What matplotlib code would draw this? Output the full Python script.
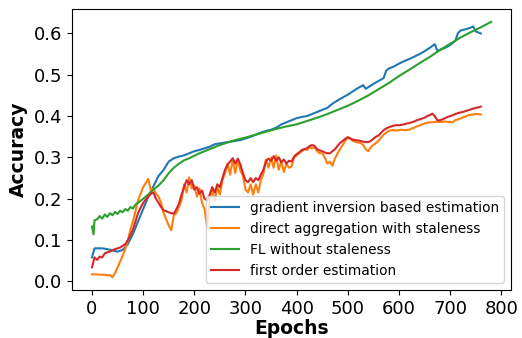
import matplotlib
matplotlib.use("Agg")
import matplotlib.pyplot as plt

# gradient inversion based estimation
gi_epochs = [0, 5, 10, 20, 30, 40, 50, 60, 70, 80, 90, 100, 110, 120, 130, 140, 150,
             160, 170, 180, 190, 200, 210, 220, 230, 240, 250, 260, 270, 280, 290, 300,
             310, 320, 330, 340, 350, 360, 370, 380, 390, 400, 410, 420, 430, 440, 450,
             460, 470, 480, 490, 500, 510, 520, 530, 535, 540, 550, 560, 570, 575, 580,
             590, 600, 610, 620, 630, 640, 650, 660, 670, 675, 680, 690, 700, 710, 715,
             720, 730, 740, 745, 750, 760]
gi_acc = [0.058, 0.080, 0.080, 0.080, 0.078, 0.075, 0.072, 0.076, 0.090, 0.115, 0.145,
          0.175, 0.205, 0.230, 0.255, 0.270, 0.290, 0.298, 0.302, 0.305, 0.310, 0.315,
          0.318, 0.322, 0.326, 0.332, 0.334, 0.336, 0.338, 0.340, 0.342, 0.346, 0.350,
          0.355, 0.360, 0.364, 0.367, 0.372, 0.380, 0.385, 0.390, 0.395, 0.398, 0.400,
          0.405, 0.410, 0.415, 0.420, 0.430, 0.438, 0.445, 0.452, 0.460, 0.468, 0.475,
          0.466, 0.470, 0.478, 0.485, 0.492, 0.510, 0.515, 0.520, 0.527, 0.533, 0.538,
          0.544, 0.550, 0.557, 0.565, 0.574, 0.558, 0.560, 0.565, 0.572, 0.582, 0.600,
          0.607, 0.610, 0.614, 0.617, 0.605, 0.600]

# direct aggregation with staleness (every 5 epochs)
da_epochs = list(range(0, 765, 5))
da_acc = [0.017, 0.017, 0.017, 0.016, 0.016, 0.016, 0.015, 0.015, 0.010, 0.020,
          0.034, 0.048, 0.062, 0.078, 0.098, 0.125, 0.145, 0.170, 0.196, 0.212,
          0.228, 0.238, 0.248, 0.220, 0.225, 0.212, 0.205, 0.190, 0.165, 0.150,
          0.135, 0.124, 0.160, 0.165, 0.180, 0.196, 0.235, 0.215, 0.252, 0.225,
          0.232, 0.205, 0.225, 0.190, 0.175, 0.130, 0.200, 0.220, 0.195, 0.228,
          0.210, 0.245, 0.262, 0.285, 0.258, 0.295, 0.262, 0.295, 0.268, 0.255,
          0.222, 0.215, 0.235, 0.210, 0.235, 0.215, 0.245, 0.260, 0.295, 0.275,
          0.300, 0.275, 0.305, 0.270, 0.290, 0.265, 0.285, 0.275, 0.278, 0.300,
          0.305, 0.310, 0.315, 0.320, 0.318, 0.325, 0.322, 0.325, 0.315, 0.310,
          0.310, 0.300, 0.285, 0.290, 0.280, 0.298, 0.310, 0.320, 0.330, 0.340,
          0.348, 0.345, 0.340, 0.338, 0.336, 0.335, 0.330, 0.320, 0.315, 0.325,
          0.330, 0.335, 0.340, 0.348, 0.355, 0.360, 0.364, 0.366, 0.366, 0.365,
          0.366, 0.367, 0.366, 0.366, 0.367, 0.370, 0.372, 0.375, 0.377, 0.380,
          0.382, 0.384, 0.385, 0.385, 0.386, 0.386, 0.386, 0.386, 0.387, 0.386,
          0.386, 0.385, 0.390, 0.392, 0.394, 0.397, 0.399, 0.402, 0.403, 0.404,
          0.405, 0.405, 0.404]

# FL without staleness
fl_epochs = [0, 3, 5, 10, 15, 20, 25, 30, 35, 40, 45, 50, 55, 60, 65, 70, 75, 80, 85,
             90, 100, 110, 120, 130, 140, 150, 160, 170, 180, 190, 200, 210, 220, 230,
             240, 250, 260, 270, 280, 290, 300, 320, 340, 360, 380, 400, 420, 440, 460,
             480, 500, 520, 540, 560, 580, 600, 620, 640, 660, 680, 700, 720, 740, 760,
             780]
fl_acc = [0.133, 0.114, 0.148, 0.150, 0.158, 0.152, 0.162, 0.156, 0.165, 0.160, 0.168,
          0.163, 0.171, 0.167, 0.175, 0.171, 0.180, 0.176, 0.186, 0.190, 0.200, 0.210,
          0.222, 0.232, 0.245, 0.262, 0.275, 0.285, 0.293, 0.298, 0.304, 0.310, 0.315,
          0.320, 0.325, 0.330, 0.334, 0.338, 0.342, 0.345, 0.348, 0.355, 0.362, 0.369,
          0.375, 0.380, 0.388, 0.396, 0.405, 0.415, 0.425, 0.437, 0.450, 0.465, 0.480,
          0.497, 0.512, 0.528, 0.543, 0.560, 0.575, 0.590, 0.603, 0.615, 0.628]

# first order estimation (every 5 epochs)
fo_epochs = list(range(0, 765, 5))
fo_acc = [0.034, 0.058, 0.052, 0.060, 0.058, 0.068, 0.070, 0.072, 0.075, 0.078,
          0.080, 0.082, 0.086, 0.090, 0.100, 0.112, 0.125, 0.145, 0.165, 0.178,
          0.190, 0.198, 0.205, 0.212, 0.215, 0.200, 0.190, 0.180, 0.172, 0.170,
          0.167, 0.165, 0.164, 0.175, 0.188, 0.210, 0.228, 0.245, 0.235, 0.245,
          0.222, 0.228, 0.212, 0.220, 0.200, 0.196, 0.210, 0.228, 0.215, 0.235,
          0.228, 0.250, 0.270, 0.283, 0.290, 0.298, 0.285, 0.297, 0.283, 0.262,
          0.245, 0.240, 0.250, 0.240, 0.250, 0.245, 0.258, 0.270, 0.290, 0.297,
          0.292, 0.303, 0.292, 0.300, 0.288, 0.295, 0.285, 0.292, 0.290, 0.302,
          0.308, 0.312, 0.318, 0.320, 0.322, 0.327, 0.330, 0.328, 0.320, 0.317,
          0.315, 0.312, 0.310, 0.310, 0.315, 0.320, 0.328, 0.335, 0.340, 0.345,
          0.349, 0.346, 0.343, 0.342, 0.341, 0.340, 0.338, 0.337, 0.337, 0.340,
          0.345, 0.350, 0.353, 0.360, 0.366, 0.370, 0.373, 0.375, 0.377, 0.378,
          0.378, 0.379, 0.380, 0.382, 0.383, 0.385, 0.387, 0.390, 0.392, 0.394,
          0.396, 0.400, 0.402, 0.406, 0.400, 0.390, 0.390, 0.392, 0.395, 0.398,
          0.400, 0.402, 0.405, 0.407, 0.409, 0.410, 0.412, 0.414, 0.416, 0.418,
          0.420, 0.421, 0.423]

labels = ["gradient inversion based estimation", "direct aggregation with staleness",
          "FL without staleness", "first order estimation"]

fig, ax = plt.subplots(figsize=(5.22, 3.38), dpi=100)
fig.subplots_adjust(left=0.138, right=0.979, top=0.973, bottom=0.142)

ax.plot(gi_epochs, gi_acc, color="tab:blue", lw=1.5, label=labels[0])
ax.plot(da_epochs, da_acc, color="tab:orange", lw=1.5, label=labels[1])
ax.plot(fl_epochs, fl_acc, color="tab:green", lw=1.5, label=labels[2])
ax.plot(fo_epochs, fo_acc, color="tab:red", lw=1.5, label=labels[3])

ax.set_xticks(range(0, 801, 100))
ax.set_yticks([0.0, 0.1, 0.2, 0.3, 0.4, 0.5, 0.6])
ax.tick_params(labelsize=13)
ax.set_xlabel("Epochs", fontsize=13.5, fontweight="bold", labelpad=1)
ax.set_ylabel("Accuracy", fontsize=13.5, fontweight="bold")
ax.legend(loc="lower right", fontsize=9.9)

fig.savefig("out.png", dpi=100)
